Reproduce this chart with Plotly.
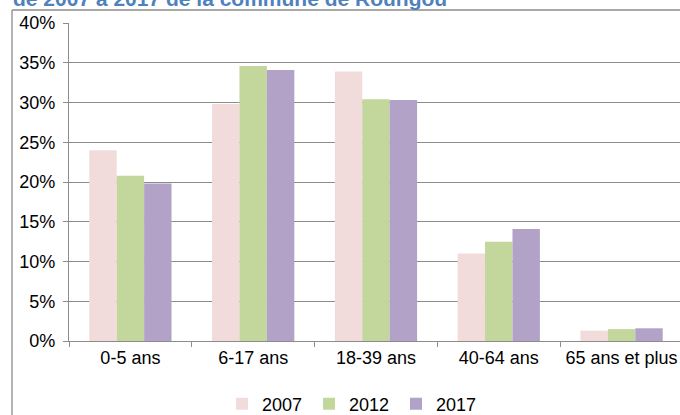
import plotly.graph_objects as go

categories = ["0-5 ans", "6-17 ans", "18-39 ans", "40-64 ans", "65 ans et plus"]
years = ["2007", "2012", "2017"]
v2007 = [24.0, 29.8, 33.9, 11.0, 1.3]
v2012 = [20.8, 34.6, 30.4, 12.5, 1.5]
v2017 = [19.8, 34.1, 30.3, 14.1, 1.6]
colors = ["#F2DCDB", "#C3D69B", "#B3A2C7"]
yticks = [0, 5, 10, 15, 20, 25, 30, 35, 40]
ytick_labels = [f"{t}%" for t in yticks]
title_text = "de 2007 à 2017 de la commune de Roungou"

W, H = 680, 415
ml, mr, mt, mb = 69, 0, 23, 74
pw, ph = W - ml - mr, H - mt - mb

def px_x(p):
    return (p - ml) / pw

def px_y(p):
    return 1 + (mt - p) / ph

fig = go.Figure()
for name, vals, c in zip(years, [v2007, v2012, v2017], colors):
    fig.add_trace(go.Bar(x=categories, y=vals, name=name, marker=dict(color=c, line=dict(width=0))))

font = dict(family="Liberation Sans, Arial, sans-serif", size=18, color="#000000")

fig.update_layout(
    width=W, height=H,
    margin=dict(l=ml, r=mr, t=mt, b=mb, pad=0, autoexpand=False),
    paper_bgcolor="white", plot_bgcolor="white",
    barmode="group", bargap=0.33, bargroupgap=0,
    font=font,
    showlegend=True,
    legend=dict(orientation="h", xref="container", yref="container", x=222 / W, xanchor="left",
                y=1 - 404 / H, yanchor="middle", entrywidth=42, entrywidthmode="pixels",
                font=font, itemwidth=30, traceorder="normal", tracegroupgap=0,
                bgcolor="rgba(0,0,0,0)"),
    xaxis=dict(range=[-0.5, 4.476], showgrid=False, showline=True, linecolor="#8C8C8C", linewidth=1.3,
               ticks="outside", tickson="boundaries", ticklen=5, tickcolor="#8C8C8C", tickwidth=1.3,
               tickfont=font, fixedrange=True, automargin=False),
    yaxis=dict(range=[0, 40], tickvals=yticks, ticktext=ytick_labels, showgrid=True, gridcolor="#8C8C8C",
               gridwidth=1.3, showline=True, linecolor="#8C8C8C", linewidth=1.3, zeroline=False,
               ticks="outside", ticklen=5, tickcolor="#8C8C8C", tickwidth=1.3,
               ticklabelstandoff=4, tickfont=font, fixedrange=True, automargin=False),
    annotations=[dict(text="<b>" + title_text + "</b>", xref="paper", yref="paper",
                      x=px_x(11), y=px_y(12), xanchor="left", yanchor="bottom", showarrow=False,
                      font=dict(family="Liberation Sans, Arial, sans-serif", size=21, color="#4F81BD"))],
    shapes=[
        dict(type="line", xref="paper", yref="paper", x0=px_x(12), x1=px_x(12), y0=px_y(10), y1=px_y(430),
             line=dict(color="#8C8C8C", width=1.3)),
        dict(type="line", xref="paper", yref="paper", x0=px_x(12), x1=px_x(690), y0=px_y(10), y1=px_y(10),
             line=dict(color="#8C8C8C", width=1.3)),
    ],
)

fig.write_html("out.html", config={"displayModeBar": False},
               post_script="document.body.style.margin='0';document.body.style.overflow='hidden';")
